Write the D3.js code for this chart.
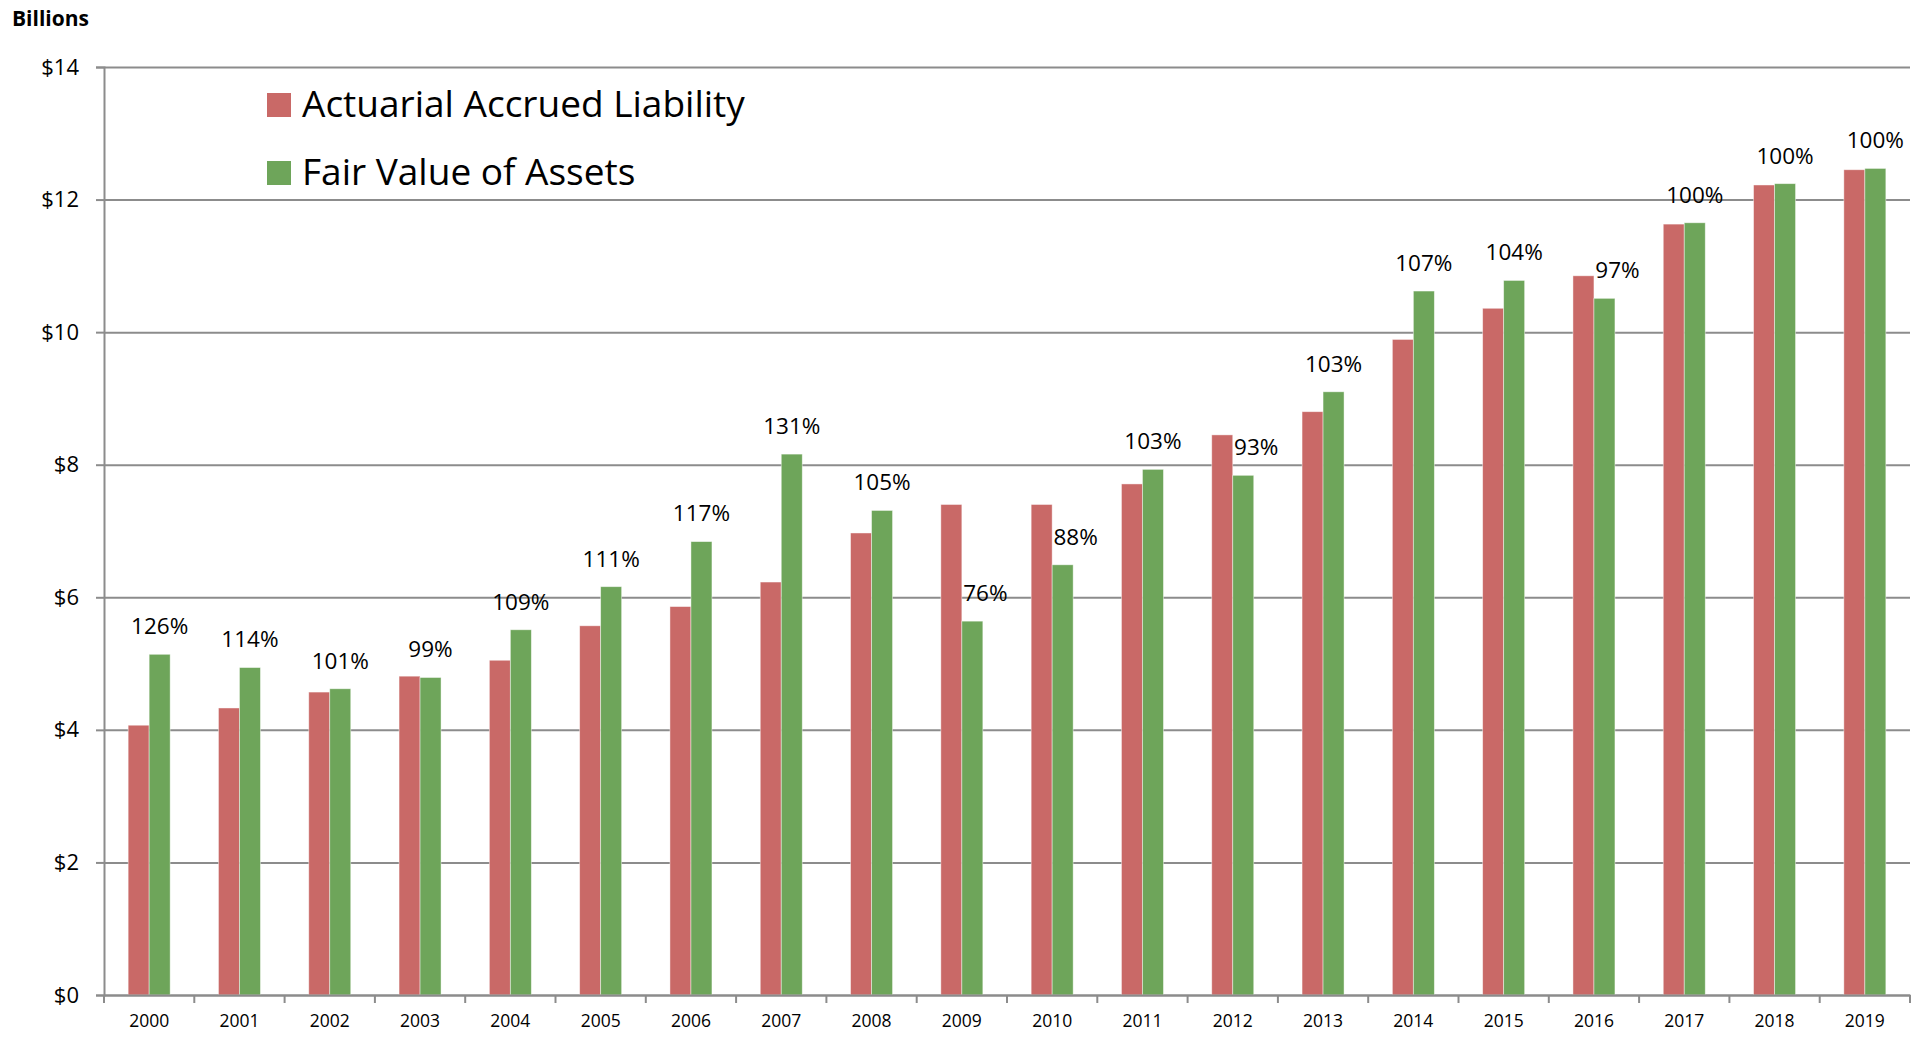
<!DOCTYPE html>
<html>
<head>
<meta charset="utf-8">
<script src="https://cdn.jsdelivr.net/npm/d3@7"></script>
<style>
  html, body { margin: 0; padding: 0; background: #fff; }
  svg { display: block; font-family: "Open Sans", Lato, sans-serif; }
</style>
</head>
<body>
<svg id="chart" width="1923" height="1037"></svg>
<script>
// ---- data ----
const years = ["2000","2001","2002","2003","2004","2005","2006","2007","2008","2009",
               "2010","2011","2012","2013","2014","2015","2016","2017","2018","2019"];
const liability = [4.07, 4.33, 4.57, 4.81, 5.05, 5.57, 5.86, 6.23, 6.97, 7.40,
                   7.40, 7.71, 8.45, 8.80, 9.89, 10.36, 10.85, 11.63, 12.22, 12.45];
const assets    = [5.14, 4.94, 4.62, 4.79, 5.51, 6.16, 6.84, 8.16, 7.31, 5.64,
                   6.49, 7.93, 7.84, 9.10, 10.62, 10.78, 10.51, 11.65, 12.24, 12.47];
const fundedRatio = ["126%","114%","101%","99%","109%","111%","117%","131%","105%","76%",
                     "88%","103%","93%","103%","107%","104%","97%","100%","100%","100%"];
const yTicks = [0, 2, 4, 6, 8, 10, 12, 14];
const seriesNames = ["Actuarial Accrued Liability", "Fair Value of Assets"];
const seriesColors = ["#C96967", "#6EA55A"];

// ---- layout ----
const FONT = "'Open Sans', Lato, sans-serif";
const svg = d3.select("#chart");
const margin = { left: 104, right: 13, top: 67, bottom: 42 };
const W = 1923, H = 1037;
const plotW = W - margin.left - margin.right;
const plotH = H - margin.top - margin.bottom;
const g = svg.append("g").attr("transform", `translate(${margin.left},${margin.top})`);

const x0 = d3.scaleBand().domain(years).range([0, plotW]).padding(0);
const x1 = d3.scaleBand().domain([0, 1]).range([0, x0.bandwidth()]).paddingInner(0).paddingOuter(1.15);
const y = d3.scaleLinear().domain([0, 14]).range([plotH, 0]);

const gridColor = "#8c8c8c";

// gridlines
const grid = g.append("g")
  .call(d3.axisLeft(y).tickValues(yTicks).tickSize(-plotW).tickFormat(""));
grid.select(".domain").remove();
grid.selectAll("line").attr("stroke", gridColor).attr("stroke-width", 2);

// bars
const rows = years.map((yr, i) => ({ yr, vals: [liability[i], assets[i]], label: fundedRatio[i] }));
const grp = g.append("g").selectAll("g").data(rows).join("g")
  .attr("transform", d => `translate(${x0(d.yr)},0)`);
grp.selectAll("rect").data(d => d.vals.map((v, k) => ({ v, k }))).join("rect")
  .attr("x", d => x1(d.k))
  .attr("y", d => y(d.v))
  .attr("width", x1.bandwidth())
  .attr("height", d => y(0) - y(d.v))
  .attr("fill", d => seriesColors[d.k])
  .attr("stroke", "#ffffff")
  .attr("stroke-opacity", 0.55)
  .attr("stroke-width", 0.8);

// funded ratio labels: above the assets bar, nudged right when liability bar is taller
grp.append("text")
  .attr("x", d => x1(1) + x1.bandwidth() / 2 + (d.vals[0] - d.vals[1] > 0.2 ? 13 : 0))
  .attr("y", d => y(d.vals[1]) - 28)
  .attr("dy", "0.35em")
  .attr("text-anchor", "middle")
  .attr("font-size", 22.5)
  .attr("font-family", FONT)
  .attr("fill", "#000")
  .text(d => d.label);

// y axis
const yAxis = g.append("g")
  .call(d3.axisLeft(y).tickValues(yTicks).tickSize(8).tickPadding(17).tickFormat(d => "$" + d));
yAxis.select(".domain").attr("stroke", gridColor).attr("stroke-width", 2);
yAxis.selectAll("line").attr("stroke", gridColor).attr("stroke-width", 2);
yAxis.selectAll("text").attr("font-size", 22).attr("fill", "#000").attr("font-family", FONT);

// x axis
const xAxis = g.append("g").attr("transform", `translate(0,${plotH})`)
  .call(d3.axisBottom(x0).tickSize(0).tickPadding(20));
xAxis.select(".domain").attr("stroke", gridColor).attr("stroke-width", 2);
xAxis.selectAll("text").attr("font-size", 17.5).attr("fill", "#000").attr("font-family", FONT);
// category boundary ticks
const bounds = years.map(yr => x0(yr)).concat([x0(years[years.length - 1]) + x0.bandwidth()]);
xAxis.selectAll("line.bound").data(bounds).join("line").attr("class", "bound")
  .attr("x1", d => d).attr("x2", d => d).attr("y1", 0).attr("y2", 8)
  .attr("stroke", gridColor).attr("stroke-width", 2);

// axis title
svg.append("text").attr("x", 12).attr("y", 26)
  .attr("font-size", 21).attr("font-weight", "bold").attr("fill", "#000")
  .attr("font-family", FONT)
  .text("Billions");

// legend
const leg = svg.append("g").attr("transform", "translate(267,93)");
const li = leg.selectAll("g").data(seriesNames).join("g")
  .attr("transform", (d, i) => `translate(0,${i * 68})`);
li.append("rect").attr("width", 24).attr("height", 24).attr("fill", (d, i) => seriesColors[i]);
li.append("text").attr("x", 35).attr("y", 24).attr("font-size", 37).attr("fill", "#000")
  .attr("font-family", FONT).text(d => d);
</script>
</body>
</html>
